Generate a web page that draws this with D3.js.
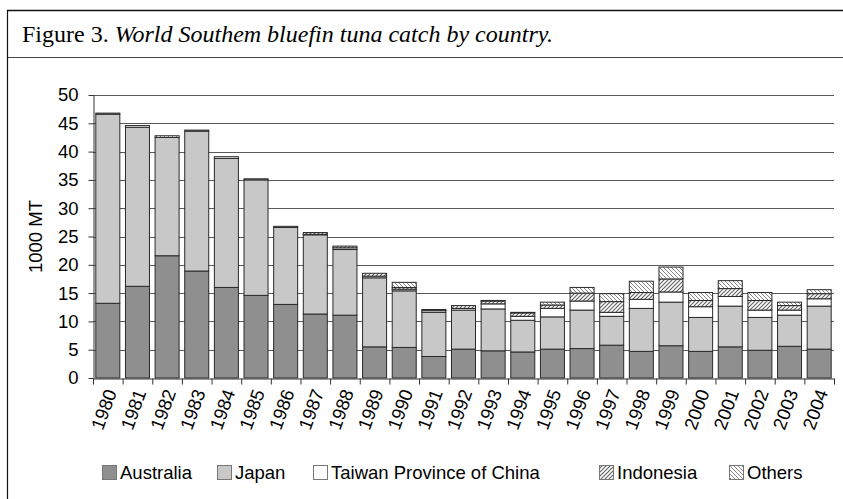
<!DOCTYPE html>
<html>
<head>
<meta charset="utf-8">
<script src="https://cdn.jsdelivr.net/npm/d3@7"></script>
<style>
  body { margin: 0; background: #fff; }
</style>
</head>
<body>
<div id="app"></div>
<script>
const years = ['1980','1981','1982','1983','1984','1985','1986','1987','1988','1989','1990','1991','1992',
    '1993','1994','1995','1996','1997','1998','1999','2000','2001','2002','2003','2004'];

// catch per country, 1000 MT
const australia = [13.2, 16.2, 21.6, 18.9, 16.0, 14.6, 13.0, 11.3, 11.1, 5.5, 5.4, 3.8, 5.1,
    4.8, 4.6, 5.1, 5.2, 5.8, 4.7, 5.7, 4.7, 5.5, 4.9, 5.6, 5.1];
const japan = [33.4, 28.1, 20.9, 24.7, 22.8, 20.4, 13.6, 14.0, 11.6, 12.2, 10.0, 7.8, 6.9,
    7.4, 5.6, 5.7, 6.8, 5.1, 7.6, 7.7, 6.0, 7.2, 5.8, 5.5, 7.6];
const taiwan = [0.2, 0.3, 0, 0.2, 0.3, 0.2, 0.2, 0.1, 0.3, 0.3, 0.3, 0.3, 0.3,
    0.9, 0.7, 1.5, 1.6, 0.7, 1.6, 1.8, 1.9, 1.7, 1.3, 0.9, 1.3];
const indonesia = [0, 0, 0, 0, 0, 0, 0, 0.3, 0.3, 0.5, 0.3, 0.2, 0.5,
    0.5, 0.6, 0.6, 1.4, 1.9, 1.2, 2.3, 1.1, 1.4, 1.7, 0.8, 0.9];
const others = [0, 0, 0.3, 0, 0, 0, 0, 0, 0, 0, 0.9, 0, 0,
    0.1, 0.1, 0.5, 1.0, 1.4, 2.0, 2.1, 1.4, 1.4, 1.4, 0.6, 0.7];

const seriesNames = ['Australia', 'Japan', 'Taiwan Province of China', 'Indonesia', 'Others'];
const yTicks = [0, 5, 10, 15, 20, 25, 30, 35, 40, 45, 50];

const rows = years.map((y, i) => ({
    year: y,
    'Australia': australia[i],
    'Japan': japan[i],
    'Taiwan Province of China': taiwan[i],
    'Indonesia': indonesia[i],
    'Others': others[i]
}));

const width = 843;
const height = 499;
const margin = { top: 95, right: 9, bottom: 121, left: 93 };

const svg = d3.select('#app').append('svg')
    .attr('width', width)
    .attr('height', height)
    .style('display', 'block');

// hatch patterns
const defs = svg.append('defs');
defs.append('pattern')
    .attr('id', 'hatchIndo')
    .attr('patternUnits', 'userSpaceOnUse')
    .attr('width', 4).attr('height', 4)
    .call(p => {
        p.append('rect').attr('width', 4).attr('height', 4).attr('fill', '#fff');
        p.append('path').attr('d', 'M-1,1 l2,-2 M0,4 l4,-4 M3,5 l2,-2')
            .attr('stroke', '#666').attr('stroke-width', 1.2);
    });
defs.append('pattern')
    .attr('id', 'hatchOther')
    .attr('patternUnits', 'userSpaceOnUse')
    .attr('width', 4).attr('height', 4)
    .call(p => {
        p.append('rect').attr('width', 4).attr('height', 4).attr('fill', '#fff');
        p.append('path').attr('d', 'M-1,3 l2,2 M0,0 l4,4 M3,-1 l2,2')
            .attr('stroke', '#888').attr('stroke-width', 1);
    });

const color = d3.scaleOrdinal()
    .domain(seriesNames)
    .range(['#8f8f8f', '#c8c8c8', '#ffffff', 'url(#hatchIndo)', 'url(#hatchOther)']);

// frame + title
svg.append('line')
    .attr('x1', 7).attr('x2', width).attr('y1', 10.5).attr('y2', 10.5)
    .attr('stroke', '#111').attr('stroke-width', 1.5);
svg.append('line')
    .attr('x1', 7).attr('x2', width).attr('y1', 57.5).attr('y2', 57.5)
    .attr('stroke', '#444').attr('stroke-width', 1.2);
svg.append('line')
    .attr('x1', 7.5).attr('x2', 7.5).attr('y1', 10).attr('y2', height)
    .attr('stroke', '#111').attr('stroke-width', 1.2);

const title = svg.append('text')
    .attr('x', 22)
    .attr('y', 42)
    .attr('font-family', '"Liberation Serif", "Times New Roman", serif')
    .attr('font-size', '24px')
    .attr('fill', '#000');
title.append('tspan').text('Figure 3. ');
title.append('tspan').attr('font-style', 'italic').text('World Southem bluefin tuna catch by country.');

// scales
const x = d3.scaleBand()
    .domain(years)
    .range([margin.left, width - margin.right])
    .paddingInner(0.19)
    .paddingOuter(0.095);

const xEdge = d3.scaleLinear()
    .domain([0, years.length])
    .range([margin.left, width - margin.right]);

const y = d3.scaleLinear()
    .domain([0, 50])
    .range([height - margin.bottom, margin.top]);

// grid
svg.append('g')
    .selectAll('line')
    .data(yTicks.filter(d => d > 0))
    .join('line')
    .attr('x1', margin.left)
    .attr('x2', width - margin.right)
    .attr('y1', d => Math.round(y(d)) + 0.5)
    .attr('y2', d => Math.round(y(d)) + 0.5)
    .attr('stroke', '#5a5a5a')
    .attr('stroke-width', 1);

// bars
const stacked = d3.stack().keys(seriesNames)(rows);

svg.append('g')
    .selectAll('g')
    .data(stacked)
    .join('g')
    .attr('fill', d => color(d.key))
    .selectAll('rect')
    .data(d => d.filter(v => v[1] - v[0] > 0))
    .join('rect')
    .attr('x', d => x(d.data.year))
    .attr('y', d => y(d[1]))
    .attr('width', x.bandwidth())
    .attr('height', d => y(d[0]) - y(d[1]))
    .attr('stroke', '#2a2a2a')
    .attr('stroke-width', 1);

// y axis
const yAxis = svg.append('g')
    .attr('transform', `translate(${margin.left + 0.5}, 0)`)
    .call(d3.axisLeft(y).tickValues(yTicks).tickSize(5).tickPadding(10).tickSizeOuter(0));
yAxis.selectAll('text')
    .attr('font-family', '"Liberation Sans", Arial, sans-serif')
    .attr('font-size', '18.5px')
    .attr('fill', '#000');
yAxis.selectAll('.domain, .tick line').attr('stroke', '#333');

// x axis (ticks between categories)
const xAxis = svg.append('g')
    .attr('transform', `translate(0, ${Math.round(y(0)) + 0.5})`)
    .call(d3.axisBottom(xEdge).tickValues(d3.range(years.length + 1)).tickSize(6).tickFormat('').tickSizeOuter(0));
xAxis.selectAll('.domain, .tick line').attr('stroke', '#333');

svg.append('g')
    .selectAll('text')
    .data(years)
    .join('text')
    .attr('transform', d => `translate(${x(d) + x.bandwidth() / 2 + 3}, ${y(0) + 12}) rotate(-70)`)
    .attr('text-anchor', 'end')
    .attr('dy', '0.35em')
    .attr('font-family', '"Liberation Sans", Arial, sans-serif')
    .attr('font-size', '18.5px')
    .attr('fill', '#000')
    .text(d => d);

// y title
svg.append('text')
    .attr('transform', `translate(42, ${(y(0) + y(50)) / 2}) rotate(-90)`)
    .attr('text-anchor', 'middle')
    .attr('font-family', '"Liberation Sans", Arial, sans-serif')
    .attr('font-size', '18.5px')
    .attr('fill', '#000')
    .text('1000 MT');

// legend
const legendX = [102, 217, 313, 599, 729];
const legend = svg.append('g').attr('transform', 'translate(0, 465)');
seriesNames.forEach((name, i) => {
    const g = legend.append('g').attr('transform', `translate(${legendX[i]}, 0)`);
    g.append('rect')
        .attr('x', 0.5).attr('y', 0.5)
        .attr('width', 14).attr('height', 14)
        .attr('fill', color(name))
        .attr('stroke', '#777');
    g.append('text')
        .attr('x', 18)
        .attr('y', 14)
        .attr('font-family', '"Liberation Sans", Arial, sans-serif')
        .attr('font-size', '18.5px')
        .attr('fill', '#000')
        .text(name);
});
</script>
</body>
</html>
